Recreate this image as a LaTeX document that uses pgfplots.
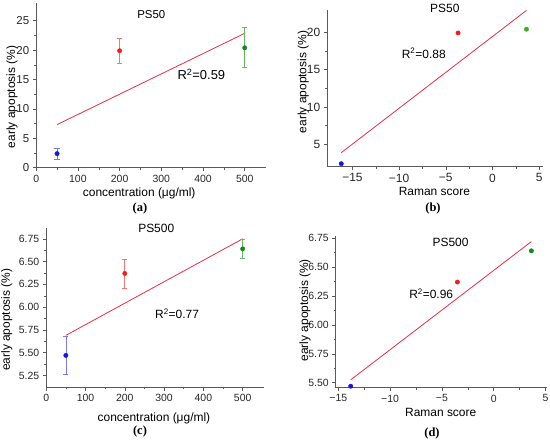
\documentclass[border=0pt]{standalone}
\usepackage{fontspec}
\setmainfont{Liberation Sans}
\newfontfamily\capfont{Liberation Serif}
\usepackage{pgfplots}
\pgfplotsset{compat=1.18}
\definecolor{ptblue}{RGB}{20,20,230}
\definecolor{ptred}{RGB}{240,30,30}
\definecolor{ptgreen}{RGB}{20,135,30}
\definecolor{ptlime}{RGB}{60,175,40}
\definecolor{ebblue}{RGB}{120,120,240}
\definecolor{ebred}{RGB}{240,120,120}
\definecolor{ebgreen}{RGB}{100,185,100}
\definecolor{fitred}{RGB}{235,45,65}
\definecolor{axgray}{RGB}{90,90,90}
\tikzset{ttl/.style={font=\fontsize{12}{13}\selectfont}}
\pgfplotsset{
  panel/.style={scale only axis, axis lines*=left, tick align=outside,
    axis line style={draw=axgray, line width=0.6bp},
    every tick/.style={draw=axgray, line width=0.5bp},
    major tick length=3.5bp, minor tick length=2bp, minor tick num=1,
    tick label style={font=\fontsize{10.5}{11}\selectfont, text=black!85},
    label style={font=\fontsize{12}{13}\selectfont},
    xlabel style={anchor=center}, ylabel style={anchor=center},
    clip=false, /pgf/number format/assume math mode=true},
  pt/.style={only marks, mark=*, mark size=2.2bp, color=#1},
  eb/.style={error bars/.cd, y dir=both, y explicit,
    error bar style={color=#1, line width=0.6bp},
    error mark options={rotate=90, color=#1, mark size=2.6bp, line width=0.6bp}},
  fit/.style={no marks, color=fitred, line width=0.8bp},
}
\begin{document}
\begin{tikzpicture}
\path[use as bounding box] (0,0) rectangle (550bp,446bp);
% (a)
\begin{axis}[panel, at={(36.2bp,278.3bp)}, anchor=south west,
  width=229.4bp, height=164.6bp,
  xmin=0, xmax=550, ymin=0, ymax=28,
  xtick={0,100,...,500}, ytick={0,5,...,25},
  yticklabel style={font=\fontsize{11.5}{12}\selectfont},
  xlabel={concentration (μg/ml)}, ylabel={early apoptosis (\%)},
  xlabel style={at={(axis description cs:0.449,-0.156)}},
  ylabel style={at={(axis description cs:-0.105,0.43)}}]
\addplot[fit] coordinates {(50,7.33) (500,22.86)};
\addplot[pt=ptblue, eb=ebblue] coordinates {(50,2.4) +- (0,0.9)};
\addplot[pt=ptred, eb=ebred] coordinates {(200,19.9) +- (0,2.1)};
\addplot[pt=ptgreen, eb=ebgreen] coordinates {(500,20.4) +- (0,3.4)};
\node[font=\fontsize{11.5}{12}\selectfont] at (axis cs:276,26.1) {PS50};
\node[font=\fontsize{13}{14}\selectfont] at (axis cs:396,15.9) {R\textsuperscript{2}=0.59};
\end{axis}
% (b)
\begin{axis}[panel, at={(327.3bp,279.3bp)}, anchor=south west,
  width=215.5bp, height=156.9bp,
  xmin=-17.7, xmax=5.4, ymin=2, ymax=23,
  xtick={-15,-10,-5,0,5}, xticklabels={−15,−10,−5,0,5},
  ytick={5,10,15,20},
  tick label style={font=\fontsize{12}{13}\selectfont},
  xlabel={Raman score}, ylabel={early apoptosis (\%)},
  xlabel style={at={(axis description cs:0.497,-0.159)}},
  ylabel style={at={(axis description cs:-0.111,0.54)}}]
\addplot[fit] coordinates {(-16.2,3.88) (3.65,22.92)};
\addplot[pt=ptblue] coordinates {(-16.2,2.4)};
\addplot[pt=ptred] coordinates {(-3.68,19.9)};
\addplot[pt=ptlime] coordinates {(3.65,20.4)};
\node[ttl] at (axis cs:-5.1,23.2) {PS50};
\node[ttl] at (axis cs:-7.36,17.19) {R\textsuperscript{2}=0.88};
\end{axis}
% (c)
\begin{axis}[panel, at={(46.2bp,58.7bp)}, anchor=south west,
  width=218.1bp, height=159.4bp,
  xmin=0, xmax=555, ymin=5.12, ymax=6.87,
  xtick={0,100,...,500}, ytick={5.25,5.5,5.75,6,6.25,6.5,6.75},
  yticklabel style={/pgf/number format/.cd, fixed, fixed zerofill, precision=2},
  xlabel={concentration (μg/ml)}, ylabel={early apoptosis (\%)},
  xlabel style={at={(axis description cs:0.494,-0.193)}},
  ylabel style={at={(axis description cs:-0.181,0.424)}}]
\addplot[fit] coordinates {(50,5.69) (500,6.75)};
\addplot[pt=ptblue, eb=ebblue] coordinates {(50,5.47) +- (0,0.21)};
\addplot[pt=ptred, eb=ebred] coordinates {(200,6.37) +- (0,0.16)};
\addplot[pt=ptgreen, eb=ebgreen] coordinates {(500,6.64) +- (0,0.105)};
\node[ttl] at (axis cs:280,6.86) {PS500};
\node[ttl] at (axis cs:333,5.93) {R\textsuperscript{2}=0.77};
\end{axis}
% (d)
\begin{axis}[panel, at={(335.7bp,58.3bp)}, anchor=south west,
  width=211.3bp, height=151.9bp,
  xmin=-15.25, xmax=5.15, ymin=5.457, ymax=6.77,
  xtick={-15,-10,-5,0,5}, xticklabels={−15,−10,−5,0,5},
  ytick={5.5,5.75,6,6.25,6.5,6.75},
  yticklabel style={/pgf/number format/.cd, fixed, fixed zerofill, precision=2},
  xlabel={Raman score}, ylabel={early apoptosis (\%)},
  xlabel style={at={(axis description cs:0.497,-0.162)}},
  ylabel style={at={(axis description cs:-0.145,0.51)}}]
\addplot[fit] coordinates {(-13.8,5.525) (3.64,6.72)};
\addplot[pt=ptblue] coordinates {(-13.8,5.47)};
\addplot[pt=ptred] coordinates {(-3.5,6.37)};
\addplot[pt=ptgreen] coordinates {(3.64,6.64)};
\node[ttl] at (axis cs:-4.16,6.715) {PS500};
\node[ttl] at (axis cs:-6.03,6.27) {R\textsuperscript{2}=0.96};
\end{axis}
% captions
\node[font=\capfont\bfseries\fontsize{12.5}{13}\selectfont] at (140bp,237bp) {(a)};
\node[font=\capfont\bfseries\fontsize{12.5}{13}\selectfont] at (433bp,237bp) {(b)};
\node[font=\capfont\bfseries\fontsize{12.5}{13}\selectfont] at (140bp,14bp) {(c)};
\node[font=\capfont\bfseries\fontsize{12.5}{13}\selectfont] at (432bp,12bp) {(d)};
\end{tikzpicture}
\end{document}
